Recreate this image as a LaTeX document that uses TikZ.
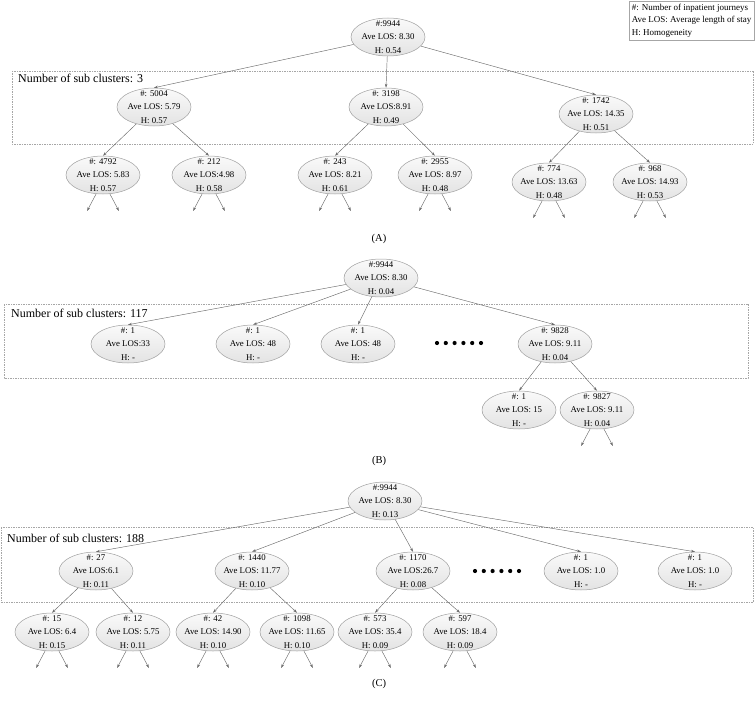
\documentclass[tikz,border=0pt]{standalone}
\usepackage{fontspec}
\setmainfont{Liberation Serif}
\usetikzlibrary{shapes.geometric,arrows.meta,calc}
\tikzset{
  cl/.style={ellipse, draw=gray!75, line width=0.5pt, top color=gray!4, bottom color=gray!22,
    minimum width=74pt, minimum height=38pt, inner sep=-12pt, align=center,
    font=\fontsize{8.8pt}{13.5pt}\selectfont},
  edge/.style={draw=gray!85!black, line width=0.45pt, -{Stealth[length=4pt,width=2.6pt]}},
  clbox/.style={draw=gray!70, dash pattern=on 1.5pt off 1pt, line width=0.5pt},
  boxlabel/.style={anchor=base west, inner sep=0pt, font=\fontsize{12pt}{14pt}\selectfont},
  panel/.style={font=\fontsize{10.5pt}{12pt}\selectfont, inner sep=0pt},
  bigdot/.style={circle, fill=black, inner sep=0pt, minimum size=4.2pt},
  legendbox/.style={draw=gray!70, line width=0.5pt, anchor=north east, align=left, inner sep=3pt,
    font=\fontsize{9pt}{12.5pt}\selectfont},
}
\begin{document}
\begin{tikzpicture}[x=1pt,y=1pt]
\useasboundingbox (0,0) rectangle (755,-701);

% legend
\node[legendbox] (legend) at (754.5,-0.8) {\#: Number of inpatient journeys\\Ave LOS: Average length of stay\\H: Homogeneity};

% ---------------- Panel A ----------------
\draw[clbox] (12,-71) rectangle (753.5,-144);
\node[boxlabel] (la) at (18,-82) {Number of sub clusters: 3};
\node[cl] (ra) at (388,-37) {\#:9944\\Ave LOS: 8.30\\H: 0.54};
\node[cl] (a1) at (154,-107) {\#: 5004\\Ave LOS: 5.79\\H: 0.57};
\node[cl] (a2) at (386,-107) {\#: 3198\\Ave LOS:8.91\\H: 0.49};
\node[cl] (a3) at (596,-114) {\#: 1742\\Ave LOS: 14.35\\H: 0.51};
\node[cl] (a11) at (103,-175) {\#: 4792\\Ave LOS: 5.83\\H: 0.57};
\node[cl] (a12) at (209,-175) {\#: 212\\Ave LOS:4.98\\H: 0.58};
\node[cl] (a21) at (335,-175) {\#: 243\\Ave LOS: 8.21\\H: 0.61};
\node[cl] (a22) at (435,-175) {\#: 2955\\Ave LOS: 8.97\\H: 0.48};
\node[cl] (a31) at (549,-182) {\#: 774\\Ave LOS: 13.63\\H: 0.48};
\node[cl] (a32) at (650,-182) {\#: 968\\Ave LOS: 14.93\\H: 0.53};
\foreach \c in {a1,a2,a3} \draw[edge] (ra) -- (\c.north);
\draw[edge] (a1) -- (a11.north);
\draw[edge] (a1) -- (a12.north);
\draw[edge] (a2) -- (a21.north);
\draw[edge] (a2) -- (a22.north);
\draw[edge] (a3) -- (a31.north);
\draw[edge] (a3) -- (a32.north);
\node[panel] (ta) at (379,-239) {(A)};

% ---------------- Panel B ----------------
\draw[clbox] (4,-304) rectangle (748,-378);
\node[boxlabel] (lb) at (11,-317) {Number of sub clusters: 117};
\node[cl] (rb) at (381,-278) {\#:9944\\Ave LOS: 8.30\\H: 0.04};
\node[cl] (b1) at (128,-344) {\#: 1\\Ave LOS:33\\H: -};
\node[cl] (b2) at (253,-344) {\#: 1\\Ave LOS: 48\\H: -};
\node[cl] (b3) at (358,-344) {\#: 1\\Ave LOS: 48\\H: -};
\node[cl] (b4) at (555,-344) {\#: 9828\\Ave LOS: 9.11\\H: 0.04};
\node[cl] (b41) at (519,-410) {\#: 1\\Ave LOS: 15\\H: -};
\node[cl] (b42) at (597,-410) {\#: 9827\\Ave LOS: 9.11\\H: 0.04};
\foreach \c in {b1,b2,b3,b4} \draw[edge] (rb) -- (\c.north);
\draw[edge] (b4) -- (b41.north);
\draw[edge] (b4) -- (b42.north);
\foreach \i in {0,...,5} \node[bigdot] (bd\i) at ({459+(\i-2.5)*8.8},-343) {};
\node[panel] (tb) at (379,-461) {(B)};

% ---------------- Panel C ----------------
\draw[clbox] (1,-527) rectangle (753,-602);
\node[boxlabel] (lc) at (7,-542) {Number of sub clusters: 188};
\node[cl] (rc) at (385,-501) {\#:9944\\Ave LOS: 8.30\\H: 0.13};
\node[cl] (c1) at (96,-571) {\#: 27\\Ave LOS:6.1\\H: 0.11};
\node[cl] (c2) at (252,-571) {\#: 1440\\Ave LOS: 11.77\\H: 0.10};
\node[cl] (c3) at (413,-571) {\#: 1170\\Ave LOS:26.7\\H: 0.08};
\node[cl] (c4) at (581,-571) {\#: 1\\Ave LOS: 1.0\\H: -};
\node[cl] (c5) at (695,-571) {\#: 1\\Ave LOS: 1.0\\H: -};
\node[cl] (c11) at (52,-632) {\#: 15\\Ave LOS: 6.4\\H: 0.15};
\node[cl] (c12) at (133,-632) {\#: 12\\Ave LOS: 5.75\\H: 0.11};
\node[cl] (c21) at (213,-632) {\#: 42\\Ave LOS: 14.90\\H: 0.10};
\node[cl] (c22) at (297,-632) {\#: 1098\\Ave LOS: 11.65\\H: 0.10};
\node[cl] (c31) at (375,-632) {\#: 573\\Ave LOS: 35.4\\H: 0.09};
\node[cl] (c32) at (460,-632) {\#: 597\\Ave LOS: 18.4\\H: 0.09};
\foreach \c in {c1,c2,c3,c4,c5} \draw[edge] (rc) -- (\c.north);
\draw[edge] (c1) -- (c11.north);
\draw[edge] (c1) -- (c12.north);
\draw[edge] (c2) -- (c21.north);
\draw[edge] (c2) -- (c22.north);
\draw[edge] (c3) -- (c31.north);
\draw[edge] (c3) -- (c32.north);
\foreach \i in {0,...,5} \node[bigdot] (cd\i) at ({497+(\i-2.5)*8.8},-571) {};
\node[panel] (tc) at (379,-684) {(C)};

% stub arrows leaving the lowest nodes
\foreach \n in {a11,a12,a21,a22,a31,a32,b42,c11,c12,c21,c22,c31,c32} {
  \coordinate (\n-l) at ($(\n.250)+(-9,-17)$);
  \coordinate (\n-r) at ($(\n.290)+(9,-17)$);
  \draw[edge] (\n.250) -- (\n-l);
  \draw[edge] (\n.290) -- (\n-r);
}
\end{tikzpicture}
\end{document}
